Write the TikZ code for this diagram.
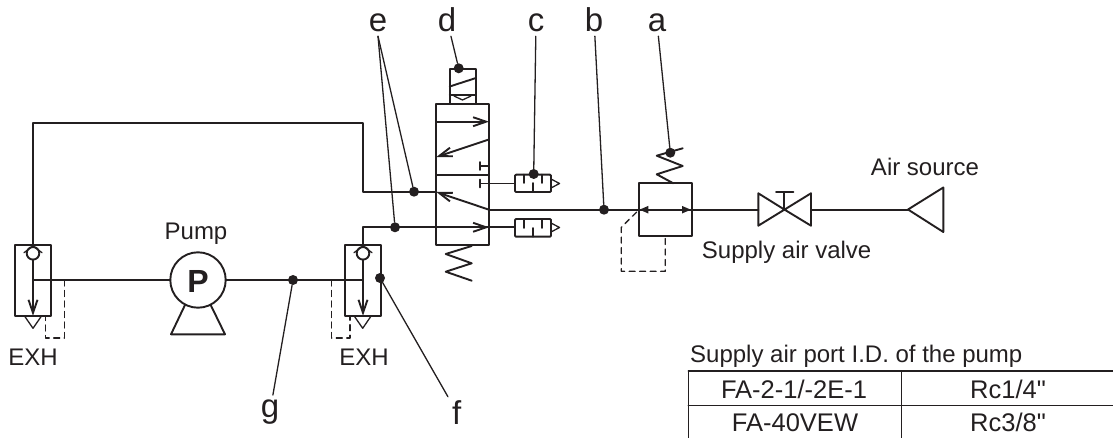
\documentclass[tikz,border=0pt]{standalone}
\usepackage{fontspec}
\setmainfont{Liberation Sans}
\newfontfamily\rawfont{Liberation Sans}
\usepackage{pgf,tikz}
\usetikzlibrary{arrows.meta}
\definecolor{ink}{HTML}{231F20}
\tikzset{
  pipe/.style={line width=1.9pt,draw=ink},
  thinline/.style={line width=1.3pt,draw=ink},
  pilot/.style={line width=1.3pt,draw=ink,dash pattern=on 6pt off 4.5pt},
  dot/.style={circle,fill=ink,inner sep=0pt,minimum size=10pt},
  letter/.style={anchor=base,inner sep=4pt,text=ink,font=\fontsize{33}{33}\selectfont},
  caption/.style={anchor=base,inner sep=0pt,text=ink,font=\fontsize{24}{26}\selectfont},
  cell/.style={anchor=base,inner sep=0pt,text=ink,font=\fontsize{25.5}{27}\selectfont},
  open/.style={-{Straight Barb[length=13pt,width=9pt]}},
  solid tip/.style={-{Triangle[length=9pt,width=7pt]}}
}
\begin{document}
\begin{tikzpicture}[line cap=round,line join=round,x=1pt,y=-1pt]
\clip(0,0) rectangle (1113,438);
% solenoid and valve body
\draw [pipe] (449.7,104)-- (449.7,69)-- (476,69)-- (476,104);
\draw [pipe] (449.7,86.5)-- (476,78);
\draw [pipe] (449.7,95)-- (476,95);
\draw [thinline] (454,96)-- (462.5,100)-- (471,96);
\draw [pipe] (436.3,104) rectangle (489,245);
\draw [pipe] (436.3,174.7)-- (489,174.7);
\draw [pipe,open] (436.3,121.7)-- (489,121.7);
\draw [pipe,open] (489,139.5)-- (436.3,157);
\draw [pipe] (489,166)-- (480,166);
\draw [pipe] (480,162)-- (480,170);
\draw [pipe] (480,179.5)-- (480,187.5);
\draw [pipe] (480,183.5)-- (515,183.5);
\draw [pipe,open] (489,209.7)-- (436.3,192);
\draw [pipe] (471.7,246)-- (445.7,254)-- (471.7,263.3)-- (445.7,271.7)-- (471.7,280.7);
% silencers
\draw [pipe,rounded corners=1pt] (515,174.7) rectangle (551,192);
\draw [pipe] (524,174.7)-- (524,183);
\draw [pipe] (533,192)-- (533,183);
\draw [pipe] (542,174.7)-- (542,183);
\draw [thinline] (551,179)-- (559.5,183.5)-- (551,188);
\draw [pipe,rounded corners=1pt] (515,219) rectangle (551,236.7);
\draw [pipe] (524,219)-- (524,228);
\draw [pipe] (533,236.7)-- (533,228);
\draw [pipe] (542,219)-- (542,228);
\draw [thinline] (551,223)-- (559.5,227.5)-- (551,232);
% pipes
\draw [pipe] (436.3,191.7)-- (363,191.7)-- (363,123)-- (33,123)-- (33,247);
\draw [pipe] (515,227.3)-- (363,227.3)-- (363,247);
\draw [pipe,open] (436.3,227.3)-- (489,227.3);
\draw [pipe] (489,209.7)-- (758.3,209.7);
\draw [pipe] (811,209.7)-- (908,209.7);
\draw [pipe] (33,280)-- (170.3,280);
\draw [pipe] (225.7,280)-- (363,280);
% left pilot block
\draw [pipe] (15.3,245) rectangle (50.7,315.7);
\draw [pipe,open] (33,259.6)-- (33,315.7);
\draw [pipe] (33,253.3) circle (6.3);
\draw [thinline] (24,252.7)-- (33,246)-- (42,252.7);
\draw [thinline] (24.3,315.7)-- (33,328.3)-- (41.7,315.7);
\draw [pilot] (64.7,280)-- (64.7,338)-- (45.7,338)-- (45.7,315.7);
% right pilot block
\draw [pipe] (345.3,245) rectangle (380.7,315.7);
\draw [pipe,open] (363,259.6)-- (363,315.7);
\draw [pipe] (363,253.3) circle (6.3);
\draw [thinline] (354,252.7)-- (363,246)-- (372,252.7);
\draw [thinline] (354,315.7)-- (362.7,328.3)-- (371.3,315.7);
\draw [pilot] (331.3,280)-- (331.3,338)-- (350,338)-- (350,315.7);
% pump
\draw [pipe] (198,280) circle (27.7);
\draw [pipe] (185,305)-- (171,334.3)-- (225,334.3)-- (210.7,305);
\node [anchor=base,inner sep=0pt,text=ink,font=\fontsize{32}{32}\selectfont\bfseries] (pumpP) at (198,292.7) {P};
% regulator
\draw [pipe] (638.7,183.3) rectangle (691.7,236.3);
\draw [pipe] (673.3,183.3)-- (656.7,174.3)-- (682.7,166)-- (656.7,155.7)-- (682.7,148.3);
\draw [pipe,solid tip] (660,209.7)-- (639.3,209.7);
\draw [pipe,solid tip] (670,209.7)-- (691,209.7);
\draw [pilot] (636.7,212)-- (621.3,227.3)-- (621.3,271.3)-- (665.3,271.3)-- (665.3,236.3);
% supply valve and source
\draw [pipe] (784.3,209.5)-- (758.3,193.3)-- (758.3,225.7)-- (811,193.3)-- (811,225.7)-- cycle;
\draw [pipe] (784.3,209.5)-- (784.3,192);
\draw [pipe] (776,192)-- (793.3,192);
\draw [pipe] (908,209.5)-- (943.3,187.5)-- (943.3,232)-- cycle;
% table
\draw [thinline] (688.3,371)-- (1113,371);
\draw [thinline] (688.3,405.3)-- (1113,405.3);
\draw [thinline] (688.3,371)-- (688.3,438);
\draw [thinline] (901.7,371)-- (901.7,438);
% texts
\node [caption] (pumpname) at (196,239.3) {Pump};
\node [caption] (exhleft) at (33,365) {EXH};
\node [caption] (exhright) at (364,365) {EXH};
\node [caption] (source) at (925,176) {Air source};
\node [caption,anchor=base west] (valvename) at (701.7,258.3) {Supply air valve};
\node [caption,anchor=base west] (tabletitle) at (690,362) {Supply air port I.D. of the pump};
\node [cell] (modelone) at (794,398) {FA-2-1/-2E-1};
\node [cell] (modeltwo) at (795,431.7) {FA-40VEW};
\node [cell] (portone) at (1008,398) {{\rawfont Rc1/4"}};
\node [cell] (porttwo) at (1008,431.7) {{\rawfont Rc3/8"}};
% leaders
\node [dot] (dota) at (670.3,152.7) {};
\node [dot] (dotb) at (604,209.7) {};
\node [dot] (dotc) at (533.7,174) {};
\node [dot] (dotd) at (458.7,68.3) {};
\node [dot] (dote) at (414,191.7) {};
\node [dot] (dotee) at (395,227.3) {};
\node [dot] (dotf) at (380,278) {};
\node [dot] (dotg) at (293,280) {};
\node [letter] (laba) at (657,31.7) {a};
\node [letter] (labb) at (594,31.7) {b};
\node [letter] (labc) at (536,31.7) {c};
\node [letter] (labd) at (447,31.7) {d};
\node [letter] (labe) at (378,31.7) {e};
\node [letter] (labf) at (456.7,424) {f};
\node [letter] (labg) at (270,417) {g};
\draw [thinline] (dota)-- (laba);
\draw [thinline] (dotb)-- (labb);
\draw [thinline] (dotc)-- (labc);
\draw [thinline] (dotd)-- (labd);
\draw [thinline] (dote)-- (labe.south);
\draw [thinline] (dotee)-- (labe.south);
\draw [thinline] (dotf)-- (labf);
\draw [thinline] (dotg)-- (labg);
\end{tikzpicture}
\end{document}
